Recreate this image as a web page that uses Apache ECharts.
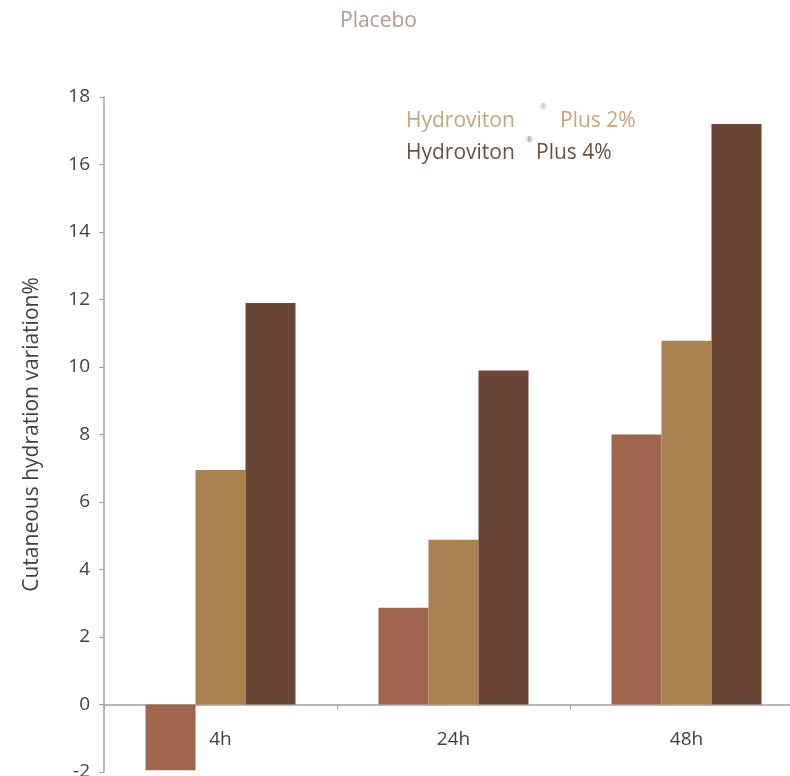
<!DOCTYPE html>
<html><head><meta charset="utf-8">
<script src="https://cdn.jsdelivr.net/npm/echarts@6/dist/echarts.min.js"></script>
<style>html,body{margin:0;padding:0;background:#fff}#c{width:790px;height:776px}</style>
</head><body><div id="c"></div>
<script>
const categories = ['4h', '24h', '48h'];
const placebo = [-1.95, 2.87, 8.0];
const plus2 = [6.95, 4.88, 10.78];
const plus4 = [11.9, 9.9, 17.2];
const yTicks = { min: -2, max: 18, interval: 2 };

const chart = echarts.init(document.getElementById('c'));
const font = 'Open Sans';
chart.setOption({
  animation: false,
  grid: { left: 104, right: -13, top: 97, bottom: 4, containLabel: false, outerBoundsMode: 'none' },
  graphic: [
    { type: 'text', left: 340, top: 11, style: { text: 'Placebo', fill: '#b8978a', font: '21px "Open Sans"' } },
    { type: 'text', left: 406, top: 111, style: { text: 'Hydroviton', fill: '#c9a47a', font: '21px "Open Sans"' } },
    { type: 'text', left: 540, top: 103, style: { text: '®', fill: '#999', font: '8px "Open Sans"' } },
    { type: 'text', left: 560, top: 111, style: { text: 'Plus 2%', fill: '#c9a47a', font: '21px "Open Sans"' } },
    { type: 'text', left: 406, top: 143, style: { text: 'Hydroviton', fill: '#6a5146', font: '21px "Open Sans"' } },
    { type: 'text', left: 526, top: 136, style: { text: '®', fill: '#777', font: '8px "Open Sans"' } },
    { type: 'text', left: 536, top: 143, style: { text: 'Plus 4%', fill: '#6a5146', font: '21px "Open Sans"' } }
  ],
  xAxis: {
    type: 'category', data: categories,
    axisLine: { onZero: true, lineStyle: { color: '#a0a0a0', width: 1.5 } },
    axisTick: { show: true, alignWithLabel: false, length: 5, lineStyle: { color: '#a0a0a0' } },
    axisLabel: { margin: -42, color: '#404040', fontFamily: font, fontSize: 19 }
  },
  yAxis: {
    type: 'value', min: yTicks.min, max: yTicks.max, interval: yTicks.interval,
    name: 'Cutaneous hydration variation%', nameLocation: 'middle', nameGap: 61,
    nameTextStyle: { color: '#404040', fontFamily: font, fontSize: 21 },
    splitLine: { show: false },
    axisLine: { show: true, lineStyle: { color: '#a0a0a0', width: 1.5 } },
    axisTick: { show: true, length: 5, lineStyle: { color: '#a0a0a0' } },
    axisLabel: { color: '#404040', fontFamily: font, fontSize: 19, margin: 14 }
  },
  series: [
    { name: 'Placebo', type: 'bar', data: placebo, barWidth: 50, barGap: '0%', itemStyle: { color: '#a0654f' } },
    { name: 'Hydroviton Plus 2%', type: 'bar', data: plus2, barWidth: 50, barGap: '0%', itemStyle: { color: '#a9804f' } },
    { name: 'Hydroviton Plus 4%', type: 'bar', data: plus4, barWidth: 50, barGap: '0%', itemStyle: { color: '#6b4535' } }
  ]
});
</script></body></html>
